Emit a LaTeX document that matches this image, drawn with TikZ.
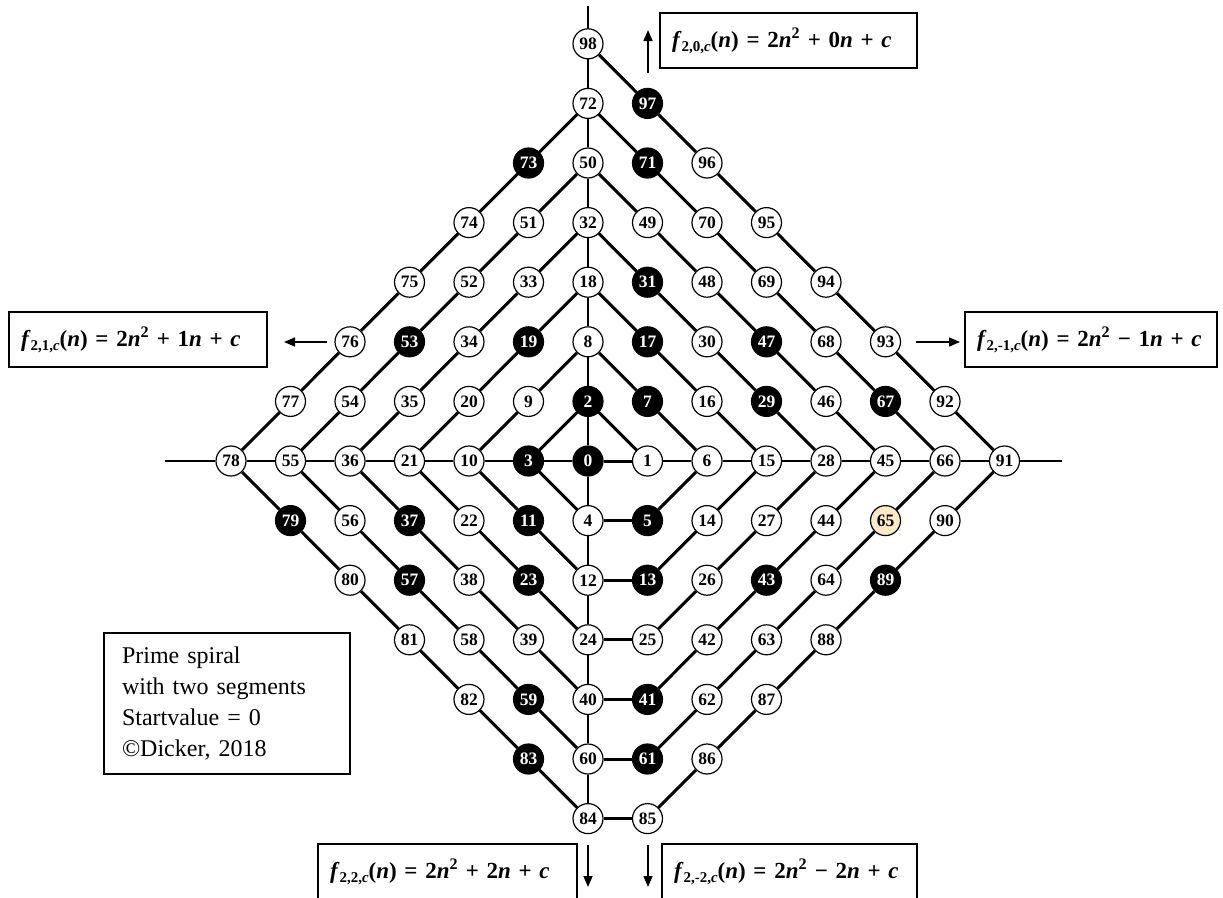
\documentclass[tikz,border=0pt]{standalone}
\usepackage{fontspec}
\setmainfont{Liberation Serif}
\usetikzlibrary{arrows.meta}
\definecolor{beige}{RGB}{252,234,196}
\newcommand{\fsb}[1]{\raisebox{-0.4ex}{\fontsize{15}{15}\selectfont #1}}
\newcommand{\fml}[3]{\textbf{\textit{f}\fsb{2,#1,\textit{c}}(\textit{n}) = 2\textit{n}\textsuperscript{2} #2 #3\textit{n} + \textit{c}}}
\begin{document}
\begin{tikzpicture}[x=1pt,y=-1pt,
  wnode/.style={circle,draw=black,line width=1.2pt,fill=white,minimum size=30pt,inner sep=0pt,font=\fontsize{17.5}{17.5}\selectfont\bfseries,text=black},
  bnode/.style={wnode,fill=black,text=white},
  ynode/.style={wnode,fill=beige},
  spiral/.style={line width=3pt,black},
  axisline/.style={line width=1.3pt,black},
  arr/.style={line width=1.5pt,-{Triangle[length=11pt,width=9pt]}},
  fbox/.style={draw,line width=1.6pt,minimum height=55pt,inner xsep=12pt,align=left,font=\fontsize{23}{26}\selectfont},
  tbox/.style={draw,line width=1.6pt,inner xsep=18pt,align=left,font=\fontsize{24}{31}\selectfont}]
\useasboundingbox (0,0) rectangle (1223,897);
\fill[white] (0,0) rectangle (1223,897);
% nodes
\foreach \n/\i/\j/\s in {
0/0/0/bnode,1/1/0/wnode,2/0/1/bnode,3/-1/0/bnode,4/0/-1/wnode,5/1/-1/bnode,
6/2/0/wnode,7/1/1/bnode,8/0/2/wnode,9/-1/1/wnode,10/-2/0/wnode,11/-1/-1/bnode,
12/0/-2/wnode,13/1/-2/bnode,14/2/-1/wnode,15/3/0/wnode,16/2/1/wnode,17/1/2/bnode,
18/0/3/wnode,19/-1/2/bnode,20/-2/1/wnode,21/-3/0/wnode,22/-2/-1/wnode,23/-1/-2/bnode,
24/0/-3/wnode,25/1/-3/wnode,26/2/-2/wnode,27/3/-1/wnode,28/4/0/wnode,29/3/1/bnode,
30/2/2/wnode,31/1/3/bnode,32/0/4/wnode,33/-1/3/wnode,34/-2/2/wnode,35/-3/1/wnode,
36/-4/0/wnode,37/-3/-1/bnode,38/-2/-2/wnode,39/-1/-3/wnode,40/0/-4/wnode,41/1/-4/bnode,
42/2/-3/wnode,43/3/-2/bnode,44/4/-1/wnode,45/5/0/wnode,46/4/1/wnode,47/3/2/bnode,
48/2/3/wnode,49/1/4/wnode,50/0/5/wnode,51/-1/4/wnode,52/-2/3/wnode,53/-3/2/bnode,
54/-4/1/wnode,55/-5/0/wnode,56/-4/-1/wnode,57/-3/-2/bnode,58/-2/-3/wnode,59/-1/-4/bnode,
60/0/-5/wnode,61/1/-5/bnode,62/2/-4/wnode,63/3/-3/wnode,64/4/-2/wnode,65/5/-1/ynode,
66/6/0/wnode,67/5/1/bnode,68/4/2/wnode,69/3/3/wnode,70/2/4/wnode,71/1/5/bnode,
72/0/6/wnode,73/-1/5/bnode,74/-2/4/wnode,75/-3/3/wnode,76/-4/2/wnode,77/-5/1/wnode,
78/-6/0/wnode,79/-5/-1/bnode,80/-4/-2/wnode,81/-3/-3/wnode,82/-2/-4/wnode,83/-1/-5/bnode,
84/0/-6/wnode,85/1/-6/wnode,86/2/-5/wnode,87/3/-4/wnode,88/4/-3/wnode,89/5/-2/bnode,
90/6/-1/wnode,91/7/0/wnode,92/6/1/wnode,93/5/2/wnode,94/4/3/wnode,95/3/4/wnode,
96/2/5/wnode,97/1/6/bnode,98/0/7/wnode}
  \node[\s] (n\n) at ({588+59.5*\i},{461-59.6*\j}) {\n};
% axes
\coordinate (vtop) at (588,6);
\coordinate (hleft) at (165,461);
\coordinate (hright) at (1062,461);
\draw[axisline] (vtop) -- (n98);
\draw[axisline] (hleft) -- (n78);
\draw[axisline] (n91) -- (hright);
\foreach \a/\b in {98/72,72/50,50/32,32/18,18/8,8/2,2/0,0/4,4/12,12/24,24/40,40/60,60/84,
  78/55,55/36,36/21,21/10,10/3,3/0,0/1,1/6,6/15,15/28,28/45,45/66,66/91}
  \draw[axisline] (n\a) -- (n\b);
% spiral
\foreach \a [evaluate=\a as \b using int(\a+1)] in {0,...,97}
  \draw[spiral] (n\a) -- (n\b);
% formula boxes
\node[fbox,text width=233pt] (ftop) at (788.5,40.5) {\fml{0}{+}{0}};
\node[fbox,text width=234pt] (fleft) at (138,339.5) {\fml{1}{+}{1}};
\node[fbox,text width=228pt] (fright) at (1091,339.5) {\fml{-1}{−}{1}};
\node[fbox,text width=235pt,minimum height=56pt] (fbl) at (447.5,872) {\fml{2}{+}{2}};
\node[fbox,text width=231pt,minimum height=56pt] (fbr) at (789.5,872) {\fml{-2}{−}{2}};
% arrows
\coordinate (atA) at (648,73); \coordinate (atB) at (648,30);
\coordinate (alA) at (327,342); \coordinate (alB) at (284,342);
\coordinate (arA) at (916,342); \coordinate (arB) at (960,342);
\coordinate (ablA) at (588,845); \coordinate (ablB) at (588,887);
\coordinate (abrA) at (648,845); \coordinate (abrB) at (648,887);
\draw[arr] (atA) -- (atB);
\draw[arr] (alA) -- (alB);
\draw[arr] (arA) -- (arB);
\draw[arr] (ablA) -- (ablB);
\draw[arr] (abrA) -- (abrB);
% info box
\node[tbox,text width=210pt,minimum height=141pt] (info) at (227,703.5)
  {Prime spiral\\with two segments\\Startvalue = 0\\©Dicker, 2018};
\end{tikzpicture}
\end{document}
